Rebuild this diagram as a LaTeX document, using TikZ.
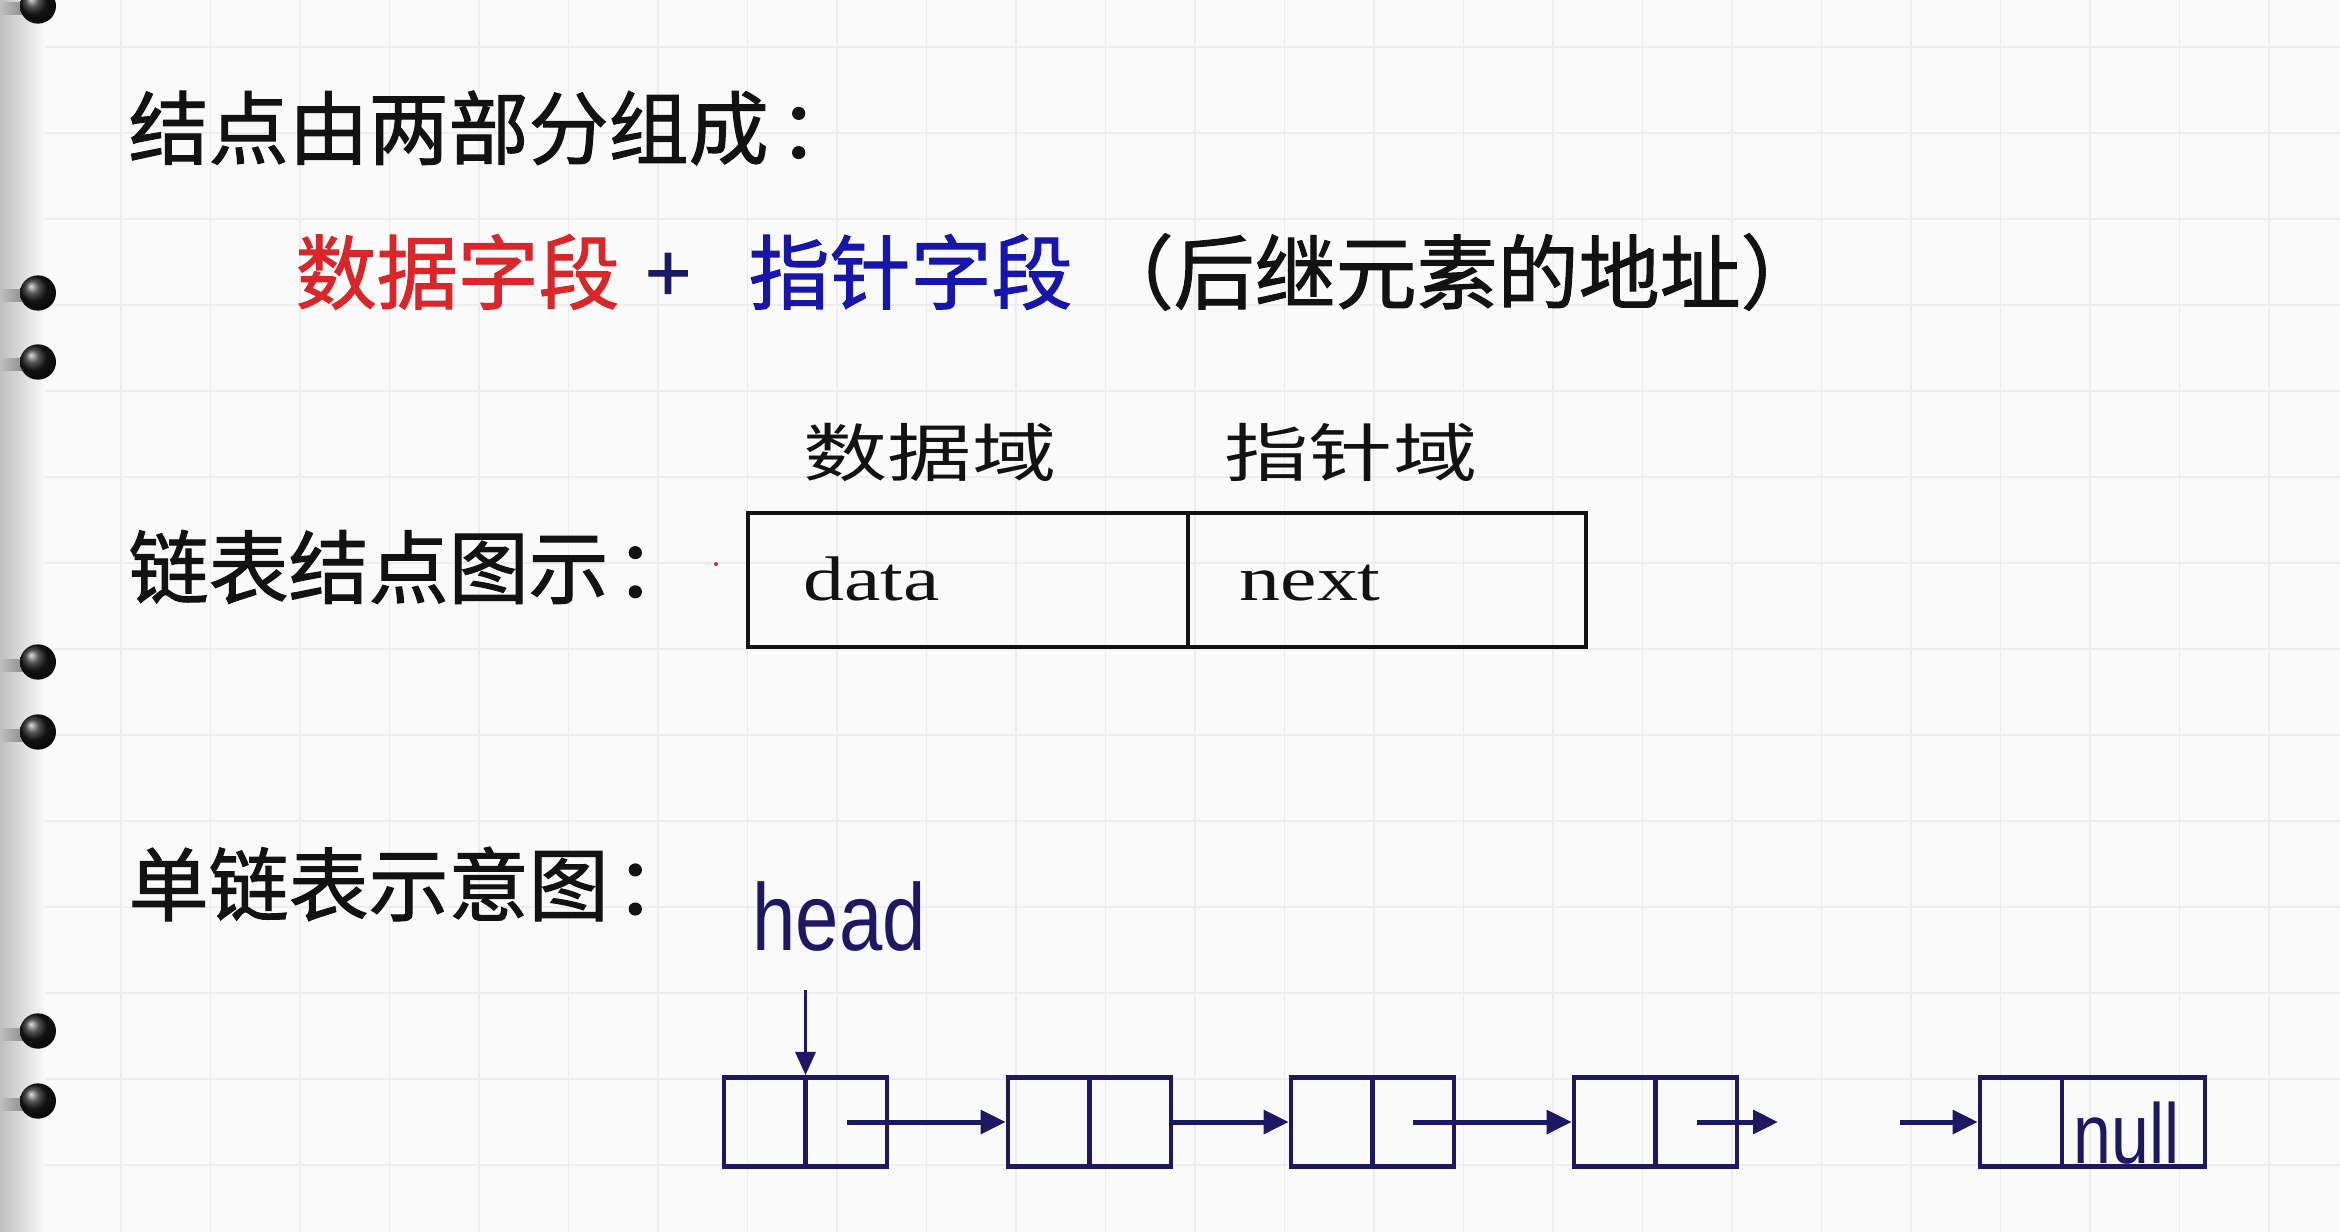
\documentclass[tikz,border=0pt]{standalone}
\usepackage{fontspec}
\usepackage{graphicx}
\setmainfont{Liberation Serif}
\newfontfamily\cjk{Noto Sans CJK SC}
\newfontfamily\cjkb[FakeBold=1.3]{Noto Sans CJK SC}
\newfontfamily\arialf{Liberation Sans}
\usetikzlibrary{arrows.meta,calc}
\definecolor{paper}{HTML}{FBFAFA}
\definecolor{gridc}{HTML}{EEEDED}
\definecolor{redt}{RGB}{218,38,40}
\definecolor{bluet}{RGB}{22,22,170}
\definecolor{navy}{RGB}{30,24,100}
\definecolor{ink}{HTML}{121212}
\tikzset{
  hd/.style={inner sep=0pt, anchor=west, text=ink, font=\cjkb\fontsize{24pt}{28pt}\selectfont},
  lab/.style={inner sep=0pt, anchor=west, font=\cjkb\fontsize{24.3pt}{28pt}\selectfont},
  fieldlab/.style={inner sep=0pt, anchor=west, text=ink, font=\cjk\fontsize{19pt}{22pt}\selectfont},
  serifword/.style={inner sep=0pt, anchor=base west, text=ink, font=\fontsize{18.9pt}{22pt}\selectfont},
  sansword/.style={inner sep=0pt, anchor=base west, text=navy},
  nodebox/.style={draw=ink, line width=1.2pt, minimum width=251.4pt, minimum height=40.2pt, inner sep=0pt},
  cell/.style={draw=navy, line width=1.4pt, minimum height=26.7pt, inner sep=0pt},
  divline/.style={draw=navy, line width=1.4pt},
  arr/.style={draw=navy, line width=1.5pt, -{Triangle[length=7.5pt,width=7pt]}},
  gridline/.style={draw=gridc, line width=0.5pt}
}
\begin{document}
\begin{tikzpicture}[x=0.3pt,y=-0.3pt]
\useasboundingbox (0,0) rectangle (2340,1232);
\clip (0,0) rectangle (2340,1232);
\fill[paper] (0,0) rectangle (2340,1232);
% grid
\foreach \k in {0,...,13} \draw[gridline] (0,{47+86*\k}) -- (2340,{47+86*\k});
\foreach \k in {0,...,25} \draw[gridline] ({31.5+89.5*\k},0) -- ({31.5+89.5*\k},1232);
% left edge shading
\shade[left color=black!25, right color=paper] (0,0) rectangle (45,1232);
% binder rings
\foreach \yy in {6,293,362,662,732,1031,1101} {
  \shade[left color=black!25, right color=black!50] (0,{\yy-3}) rectangle (30,{\yy+9});
  \shade[ball color=black!90] (38,\yy) ellipse [x radius=5.4pt, y radius=5.3pt];
}
% headings
\node[hd] (t1) at (128,128) {结点由两部分组成\hspace{3pt}：};
\node[lab, text=redt] (t2a) at (295,272) {数据字段};
\node[inner sep=0pt, text=navy, font=\cjkb\fontsize{24pt}{28pt}\selectfont] (plus) at (668,278) {+};
\node[lab, text=bluet] (t2b) at (748,272) {指针字段};
\node[lab, text=ink] (t2c) at (1092,272) {（后继元素的地址）};
\node[hd] (t3) at (128,567) {链表结点图示\hspace{2pt}：};
\node[hd] (t4) at (128,884) {单链表示意图\hspace{2pt}：};
\fill[redt] (716,564) circle [radius=0.6pt];
% node diagram
\node[fieldlab] (fd) at (803,452) {\scalebox{1.33}[1]{数据域}};
\node[fieldlab] (fp) at (1224,452) {\scalebox{1.33}[1]{指针域}};
\node[nodebox] (nb) at (1167,580) {};
\coordinate (dv) at (1188,580);
\draw[draw=ink, line width=1.2pt] (dv |- nb.north) -- (dv |- nb.south);
\node[serifword] (wdata) at (803,600) {\scalebox{1.3}[1]{data}};
\node[serifword] (wnext) at (1239,600) {\scalebox{1.3}[1]{next}};
% linked list
\node[sansword, font=\arialf\fontsize{28.5pt}{32pt}\selectfont] (head) at (752,950) {\scalebox{0.82}[1]{head}};
\node[cell, minimum width=48.9pt] (n1) at (805.5,1122) {};
\node[cell, minimum width=48.9pt] (n2) at (1089.5,1122) {};
\node[cell, minimum width=48.9pt] (n3) at (1372.5,1122) {};
\node[cell, minimum width=48.9pt] (n4) at (1655.5,1122) {};
\node[cell, minimum width=67.5pt] (n5) at (2092.5,1122) {};
\foreach \n in {n1,n2,n3,n4} \draw[divline] (\n.north) -- (\n.south);
\coordinate (d5) at (2062,1122);
\draw[divline] (d5 |- n5.north) -- (d5 |- n5.south);
\node[sansword, font=\arialf\fontsize{25.5pt}{28pt}\selectfont] (nul) at (2073,1163) {\scalebox{0.8}[1]{null}};
\coordinate (h0) at (805.5,990);
\draw[draw=navy, line width=1.1pt, -{Triangle[length=7pt,width=6pt]}] (h0) -- (n1.north);
\coordinate (p1) at (846.5,1122);
\coordinate (p3) at (1413,1122);
\coordinate (p4) at (1697,1122);
\coordinate (q4) at (1778,1122);
\coordinate (q5) at (1900,1122);
\draw[arr] (p1) -- (n2.west);
\draw[arr] (n2.east) -- (n3.west);
\draw[arr] (p3) -- (n4.west);
\draw[arr] (p4) -- (q4);
\draw[arr] (q5) -- (n5.west);
\end{tikzpicture}
\end{document}
